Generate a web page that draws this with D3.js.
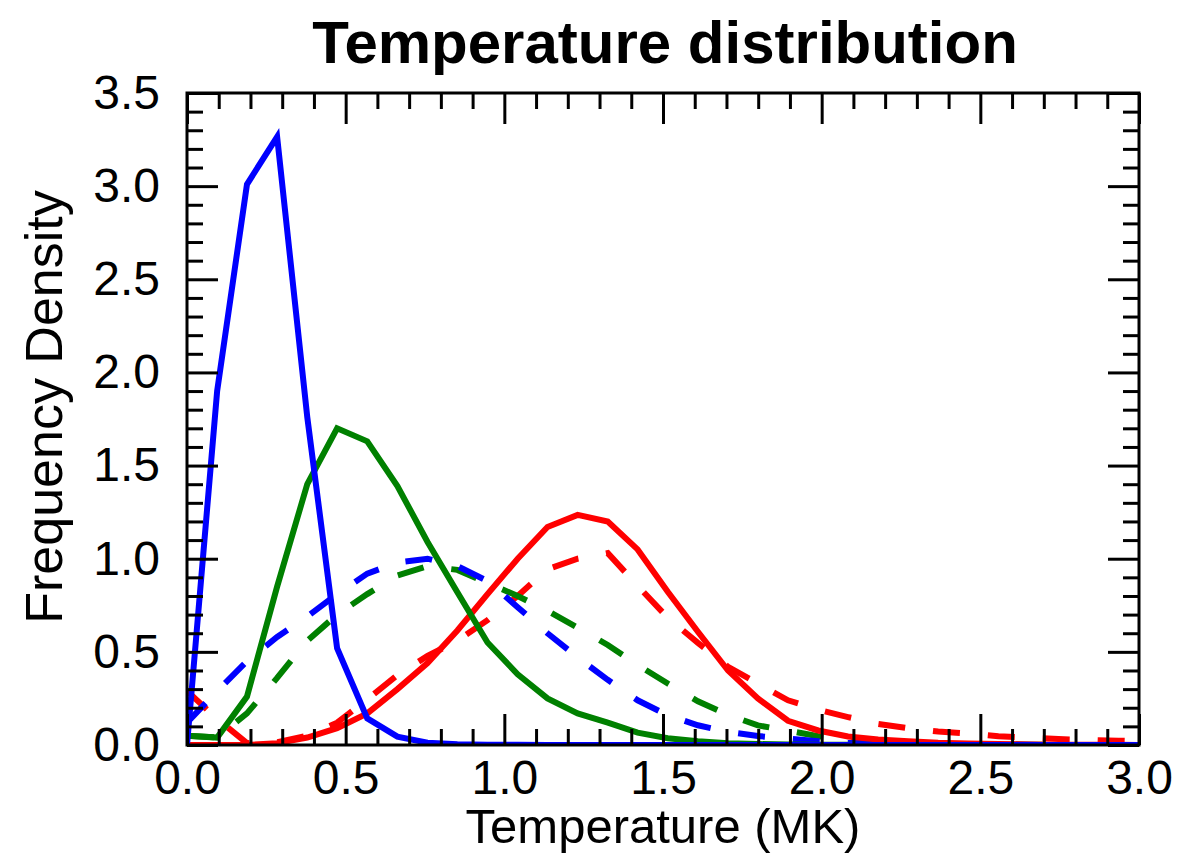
<!DOCTYPE html>
<html>
<head>
<meta charset="utf-8">
<script src="https://cdn.jsdelivr.net/npm/d3@7"></script>
<style>
  html, body { margin: 0; padding: 0; background: #fff; }
  svg { display: block; font-family: "Liberation Sans", Arial, Helvetica, sans-serif; }
</style>
</head>
<body>
<svg id="chart" width="1178" height="857"></svg>
<script>
// Temperature grid (MK)
const temperature = [0.000, 0.095, 0.189, 0.284, 0.379, 0.473, 0.568, 0.663, 0.758, 0.852,
  0.947, 1.042, 1.136, 1.231, 1.326, 1.420, 1.515, 1.610, 1.705, 1.799,
  1.894, 1.989, 2.083, 2.178, 2.273, 2.367, 2.462, 2.557, 2.652, 2.746,
  2.841, 2.936, 3.030];

// Frequency density for each population (solid and dashed variants)
const blueSolid = [0.0, 1.90, 3.01, 3.265, 1.76, 0.52, 0.143, 0.045, 0.012, 0.004,
  0.002, 0.001, 0, 0, 0, 0, 0, 0, 0, 0, 0, 0, 0, 0, 0, 0, 0, 0, 0, 0, 0, 0, 0];
const blueDashed = [0.12, 0.29, 0.45, 0.58, 0.69, 0.81, 0.92, 0.98, 1.0, 0.96,
  0.88, 0.74, 0.60, 0.47, 0.35, 0.24, 0.16, 0.106, 0.07, 0.048,
  0.034, 0.02, 0.012, 0.008, 0.005, 0.003, 0.002, 0.001, 0.001, 0, 0, 0, 0];
const greenSolid = [0.05, 0.04, 0.26, 0.85, 1.40, 1.70, 1.63, 1.39, 1.09, 0.82,
  0.55, 0.38, 0.25, 0.17, 0.12, 0.066, 0.036, 0.02, 0.01, 0.005,
  0.003, 0.002, 0.001, 0, 0, 0, 0, 0, 0, 0, 0, 0, 0];
const greenDashed = [0.05, 0.04, 0.17, 0.36, 0.56, 0.70, 0.81, 0.91, 0.96, 0.94,
  0.87, 0.80, 0.72, 0.63, 0.537, 0.43, 0.33, 0.235, 0.162, 0.105,
  0.077, 0.047, 0.03, 0.02, 0.013, 0.008, 0.005, 0.003, 0.002, 0.001, 0, 0, 0];
const redSolid = [0.0, 0.0, 0.0, 0.01, 0.04, 0.09, 0.17, 0.30, 0.44, 0.615,
  0.81, 1.0, 1.17, 1.235, 1.20, 1.05, 0.823, 0.608, 0.40, 0.25,
  0.13, 0.078, 0.046, 0.03, 0.02, 0.012, 0.008, 0.005, 0.003, 0.002, 0.001, 0.001, 0];
const redDashed = [0.29, 0.14, 0.01, 0.015, 0.05, 0.12, 0.245, 0.375, 0.478, 0.56,
  0.67, 0.80, 0.944, 1.0, 1.03, 0.855, 0.683, 0.548, 0.42, 0.33,
  0.24, 0.19, 0.15, 0.113, 0.09, 0.072, 0.062, 0.047, 0.04, 0.032, 0.027, 0.023, 0.02];

const xMajorTicks = [0.0, 0.5, 1.0, 1.5, 2.0, 2.5, 3.0];
const yMajorTicks = [0.0, 0.5, 1.0, 1.5, 2.0, 2.5, 3.0, 3.5];

const series = [
  { values: redDashed, color: "#ff0000", dashed: true },
  { values: greenDashed, color: "#008000", dashed: true },
  { values: blueDashed, color: "#0000ff", dashed: true },
  { values: redSolid, color: "#ff0000", dashed: false },
  { values: greenSolid, color: "#008000", dashed: false },
  { values: blueSolid, color: "#0000ff", dashed: false }
];

const svg = d3.select("#chart");
const margin = { left: 187, top: 93, right: 1178 - 1139, bottom: 857 - 745 };
const W = 1178 - margin.left - margin.right;
const H = 857 - margin.top - margin.bottom;

const x = d3.scaleLinear().domain([0, 3]).range([0, W]);
const y = d3.scaleLinear().domain([0, 3.5]).range([H, 0]);

const g = svg.append("g").attr("transform", `translate(${margin.left},${margin.top})`);

g.append("clipPath").attr("id", "plot-clip")
  .append("rect").attr("x", 0).attr("y", -3).attr("width", W).attr("height", H + 3);

const line = d3.line()
  .x((d, i) => x(temperature[i]))
  .y(d => y(d));

const lines = g.append("g").attr("clip-path", "url(#plot-clip)");
series.forEach(s => {
  lines.append("path")
    .datum(s.values)
    .attr("d", line)
    .attr("fill", "none")
    .attr("stroke", s.color)
    .attr("stroke-width", 6)
    .attr("stroke-linejoin", "miter")
    .attr("stroke-dasharray", s.dashed ? "27,28" : null);
});

// Minor tick positions every 0.1 units
const xMinor = d3.range(0, 31).map(i => +(i / 10).toFixed(1)).filter(v => !xMajorTicks.includes(v));
const yMinor = d3.range(0, 36).map(i => +(i / 10).toFixed(1)).filter(v => !yMajorTicks.includes(v));

const fmt = d3.format(".1f");

function styleAxis(sel) {
  sel.select(".domain").remove();
  sel.selectAll(".tick line").attr("stroke", "#000").attr("stroke-width", 3);
  sel.selectAll(".tick text").attr("fill", "#000").style("font-size", "48px");
}

// Bottom axis: major with labels, minor without
g.append("g").attr("transform", `translate(0,${H})`)
  .call(d3.axisBottom(x).tickValues(xMajorTicks).tickSize(-31).tickPadding(15).tickFormat(fmt))
  .call(styleAxis);
g.append("g").attr("transform", `translate(0,${H})`)
  .call(d3.axisBottom(x).tickValues(xMinor).tickSize(-16).tickFormat(""))
  .call(styleAxis);
// Top axis
g.append("g")
  .call(d3.axisTop(x).tickValues(xMajorTicks).tickSize(-31).tickFormat(""))
  .call(styleAxis);
g.append("g")
  .call(d3.axisTop(x).tickValues(xMinor).tickSize(-16).tickFormat(""))
  .call(styleAxis);
// Left axis
g.append("g")
  .call(d3.axisLeft(y).tickValues(yMajorTicks).tickSize(-31).tickPadding(27).tickFormat(fmt))
  .call(styleAxis);
g.append("g")
  .call(d3.axisLeft(y).tickValues(yMinor).tickSize(-16).tickFormat(""))
  .call(styleAxis);
// Right axis
g.append("g").attr("transform", `translate(${W},0)`)
  .call(d3.axisRight(y).tickValues(yMajorTicks).tickSize(-31).tickFormat(""))
  .call(styleAxis);
g.append("g").attr("transform", `translate(${W},0)`)
  .call(d3.axisRight(y).tickValues(yMinor).tickSize(-16).tickFormat(""))
  .call(styleAxis);

// Plot frame
g.append("rect")
  .attr("x", 0).attr("y", 0).attr("width", W).attr("height", H)
  .attr("fill", "none").attr("stroke", "#000").attr("stroke-width", 3);

// Title and axis titles
svg.append("text")
  .attr("x", margin.left + W / 2 + 2).attr("y", 63)
  .attr("text-anchor", "middle")
  .style("font-size", "60px").style("font-weight", "bold")
  .text("Temperature distribution");

svg.append("text")
  .attr("x", margin.left + W / 2).attr("y", 843)
  .attr("text-anchor", "middle")
  .style("font-size", "49px")
  .text("Temperature (MK)");

svg.append("text")
  .attr("transform", `translate(62,${margin.top + H / 2 - 12}) rotate(-90)`)
  .attr("text-anchor", "middle")
  .style("font-size", "52px")
  .text("Frequency Density");
</script>
</body>
</html>
